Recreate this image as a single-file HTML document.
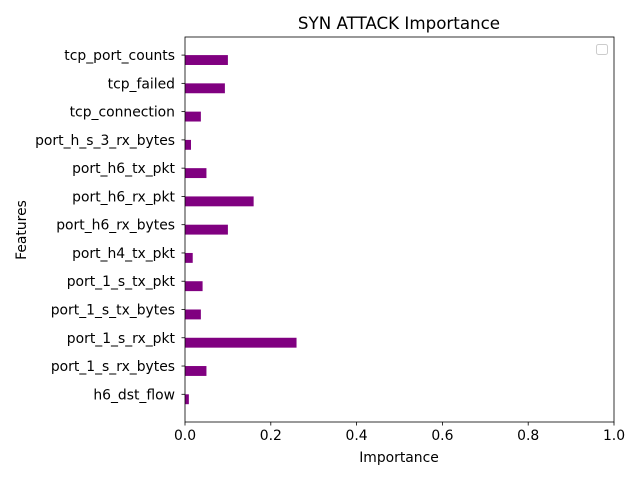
<!DOCTYPE html>
<html><head><meta charset="utf-8"><style>
body{margin:0;background:#fff}
svg text{font-family:"DejaVu Sans","Liberation Sans",sans-serif;fill:#000}
</style></head><body>
<svg id="chart" width="640" height="480" xmlns="http://www.w3.org/2000/svg">
<rect width="640" height="480" fill="#fff"/>
<g id="bars"></g>
<g id="axes"></g>
<text x="399" y="29" font-size="16.7" text-anchor="middle">SYN ATTACK Importance</text>
<text x="399" y="462" font-size="13.9" text-anchor="middle">Importance</text>
<text x="0" y="0" font-size="13.9" text-anchor="middle" transform="translate(26,230) rotate(-90)">Features</text>
<rect x="596.5" y="44.5" width="11" height="10" fill="#fff" stroke="#ccc" rx="2"/>
</svg>
<script>
const features=["h6_dst_flow","port_1_s_rx_bytes","port_1_s_rx_pkt","port_1_s_tx_bytes","port_1_s_tx_pkt","port_h4_tx_pkt","port_h6_rx_bytes","port_h6_rx_pkt","port_h6_tx_pkt","port_h_s_3_rx_bytes","tcp_connection","tcp_failed","tcp_port_counts"];
const importance=[0.009,0.05,0.26,0.037,0.041,0.018,0.1,0.16,0.05,0.014,0.037,0.093,0.1];
const xTicks=[0,0.2,0.4,0.6,0.8,1.0];
const xTickLabels=["0.0","0.2","0.4","0.6","0.8","1.0"];
const NS="http://www.w3.org/2000/svg";
const L=185,R=614,T=37,B=422;
const yMin=-0.98,yMax=12.64;
function xs(v){return L+v*(R-L);}
function ys(v){return B-(v-yMin)/(yMax-yMin)*(B-T);}
function mk(tag,attrs,parent){const e=document.createElementNS(NS,tag);for(const k in attrs)e.setAttribute(k,attrs[k]);parent.appendChild(e);return e;}
const bars=document.getElementById('bars'),axes=document.getElementById('axes');
features.forEach((f,i)=>{
 const r=mk('rect',{x:xs(0),y:ys(i),width:xs(importance[i])-xs(0),height:ys(i-0.35)-ys(i),fill:'#800080'},bars);
 
 
 const t=mk('line',{x1:L-3.5,x2:L,y1:ys(i),y2:ys(i),stroke:'#000','stroke-width':0.8},axes);
 
 
 const lb=mk('text',{x:L-10,y:ys(i)+5,'font-size':13.9,'text-anchor':'end'},axes);
 lb.textContent=f;
 
 
});
xTicks.forEach((v,i)=>{
 const t=mk('line',{x1:xs(v),x2:xs(v),y1:B,y2:B+3.5,stroke:'#000','stroke-width':0.8},axes);
 
 
 const lb=mk('text',{x:xs(v),y:B+18,'font-size':13.9,'text-anchor':'middle'},axes);
 lb.textContent=xTickLabels[i];
 
 
});
const fr=mk('rect',{x:L,y:T,width:R-L,height:B-T,fill:'none',stroke:'#000','stroke-width':0.8},axes);


</script>
</body></html>
